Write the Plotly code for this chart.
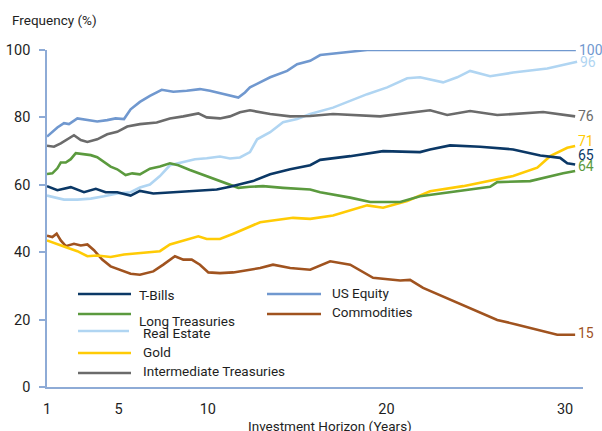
import plotly.graph_objects as go

# ---------------- data ----------------
tbills_x = [1.0, 1.58, 2.33, 3.07, 3.73, 4.28, 4.93, 5.68, 6.20, 6.95, 8.07, 9.19, 10.50, 11.24, 11.99,
            12.53, 13.49, 14.61, 15.73, 16.29, 17.97, 19.81, 21.88, 22.44, 23.56, 25.24, 27.09, 28.61,
            29.72, 30.12, 30.56]
tbills_y = [59.6, 58.4, 59.3, 57.8, 58.8, 57.8, 57.8, 56.8, 58.2, 57.4, 57.8, 58.1, 58.6, 59.4, 60.4,
            61.1, 63.1, 64.6, 65.8, 67.4, 68.5, 70.0, 69.7, 70.5, 71.7, 71.3, 70.5, 68.7,
            68.0, 66.4, 66.0]

equity_x = [1.0, 1.58, 1.95, 2.23, 2.70, 3.26, 3.81, 4.37, 4.84, 5.31, 5.68, 6.20, 6.76, 7.42, 8.07,
            8.82, 9.56, 10.12, 10.68, 11.24, 11.71, 12.08, 12.36, 13.49, 14.44, 15.0, 15.73, 16.29,
            17.4, 18.92, 30.6]
equity_y = [74.3, 77.0, 78.3, 78.0, 79.7, 79.2, 78.8, 79.2, 79.7, 79.5, 82.4, 84.6, 86.4, 88.2, 87.6,
            87.9, 88.4, 87.9, 87.2, 86.4, 85.9, 87.4, 88.9, 91.9, 93.8, 95.8, 96.8, 98.5,
            99.2, 100.0, 100.0]

longt_x = [1.0, 1.30, 1.58, 1.77, 2.05, 2.33, 2.61, 3.07, 3.45, 3.81, 4.19, 4.56, 4.93, 5.40, 5.77,
           6.20, 6.76, 7.32, 7.88, 8.35, 9.00, 9.56, 10.12, 10.68, 11.24, 11.71, 12.36, 13.09, 14.21,
           15.73, 16.29, 17.97, 19.09, 20.77, 21.88, 23.0, 24.29, 25.80, 26.20, 28.04, 29.89, 30.56]
longt_y = [63.2, 63.4, 64.9, 66.6, 66.6, 67.6, 69.4, 69.1, 68.8, 68.2, 66.9, 65.4, 64.6, 62.9, 63.4,
           63.1, 64.8, 65.4, 66.4, 65.8, 64.4, 63.3, 62.1, 61.1, 59.8, 59.1, 59.4, 59.6, 59.1,
           58.6, 57.8, 56.2, 54.9, 54.9, 56.6, 57.4, 58.4, 59.4, 60.8, 61.1, 63.4, 64.1]

commod_x = [1.0, 1.30, 1.54, 1.77, 2.05, 2.51, 2.89, 3.26, 3.63, 4.09, 4.56, 5.12, 5.68, 6.20, 6.95,
            7.51, 8.16, 8.63, 9.10, 9.56, 10.03, 10.68, 11.43, 12.36, 12.93, 13.65, 14.61, 15.73,
            16.85, 17.97, 19.25, 20.77, 21.32, 22.05, 23.56, 24.85, 26.20, 27.32, 28.61, 29.56, 30.56]
commod_y = [44.9, 44.5, 45.5, 43.5, 41.8, 42.5, 42.0, 42.3, 40.6, 37.8, 35.8, 34.6, 33.6, 33.3, 34.3,
            36.3, 38.8, 37.8, 37.8, 36.3, 34.0, 33.8, 34.0, 34.8, 35.3, 36.3, 35.3, 34.8,
            37.3, 36.3, 32.4, 31.6, 31.8, 29.4, 25.9, 23.1, 19.9, 18.5, 16.8, 15.5, 15.5]

realest_x = [1.0, 1.95, 2.70, 3.45, 4.19, 4.93, 5.68, 6.20, 6.76, 7.32, 7.88, 8.63, 9.28, 9.94, 10.68,
             11.24, 11.80, 12.36, 12.76, 13.49, 14.21, 15.0, 15.73, 17.01, 18.92, 20.04, 21.16, 21.88,
             22.44, 23.17, 23.96, 24.68, 25.80, 27.09, 29.0, 30.67]
realest_y = [56.8, 55.6, 55.6, 55.9, 56.6, 57.4, 57.8, 59.2, 60.1, 62.6, 65.8, 66.8, 67.6, 67.9, 68.4,
             67.8, 68.1, 69.7, 73.5, 75.6, 78.6, 79.5, 81.0, 82.9, 86.9, 88.9, 91.6, 91.9,
             91.2, 90.4, 91.9, 93.8, 92.2, 93.3, 94.5, 96.5]

gold_x = [1.0, 1.58, 2.14, 2.70, 3.26, 3.81, 4.56, 5.31, 6.20, 7.32, 7.88, 8.63, 9.47, 9.94, 10.68,
          11.43, 11.99, 12.36, 12.93, 14.05, 14.77, 15.73, 17.01, 18.92, 19.81, 21.16, 22.44, 24.29,
          25.80, 27.09, 28.44, 29.16, 30.12, 30.56]
gold_y = [43.5, 42.3, 41.3, 40.3, 38.8, 39.0, 38.6, 39.3, 39.7, 40.3, 42.3, 43.5, 44.7, 43.9, 43.9,
          45.5, 46.7, 47.7, 48.9, 49.7, 50.2, 49.9, 50.9, 53.9, 53.2, 55.2, 58.1, 59.6,
          61.1, 62.6, 65.1, 68.5, 71.0, 71.5]

interm_x = [1.0, 1.39, 1.77, 2.14, 2.51, 2.89, 3.26, 3.81, 4.37, 4.93, 5.49, 6.20, 7.14, 7.88, 8.63,
            9.47, 9.94, 10.68, 11.24, 11.80, 12.36, 13.49, 14.61, 15.73, 17.01, 19.65, 20.77, 22.44,
            23.40, 24.68, 26.20, 28.77, 30.56]
interm_y = [71.6, 71.3, 72.3, 73.5, 74.7, 73.3, 72.7, 73.5, 75.0, 75.7, 77.3, 78.0, 78.5, 79.7, 80.3,
            81.2, 80.0, 79.7, 80.3, 81.5, 82.1, 81.0, 80.3, 80.4, 81.0, 80.3, 81.0, 82.1,
            80.7, 81.9, 80.7, 81.6, 80.3]

series_names = ["T-Bills", "US Equity", "Long Treasuries", "Commodities", "Real Estate", "Gold",
                "Intermediate Treasuries"]
end_labels = ["65", "100", "64", "15", "96", "71", "76"]
x_ticks = [1, 5, 10, 20, 30]
y_ticks = [0, 20, 40, 60, 80, 100]

# ---------------- styling ----------------
colors = {
    "T-Bills": "#0b3866",
    "US Equity": "#7098cf",
    "Long Treasuries": "#5b9a3e",
    "Commodities": "#a0531f",
    "Real Estate": "#b0d5f2",
    "Gold": "#ffcb05",
    "Intermediate Treasuries": "#6b6b6b",
}
end_shift = {"65": 10, "100": 0, "64": 5, "15": 2, "96": 0, "71": 5, "76": 0}
FONT = "Roboto, Arial, sans-serif"
AX = "#8eabd6"
TXT = "#1e1e1e"

W, H = 602, 431
L, R, T, B = 47, 19, 50, 44
PW, PH = W - L - R, H - T - B


def px(xp):
    return (xp - L) / PW


def py(yp):
    return (H - B - yp) / PH


data = {
    "T-Bills": (tbills_x, tbills_y),
    "US Equity": (equity_x, equity_y),
    "Long Treasuries": (longt_x, longt_y),
    "Commodities": (commod_x, commod_y),
    "Real Estate": (realest_x, realest_y),
    "Gold": (gold_x, gold_y),
    "Intermediate Treasuries": (interm_x, interm_y),
}

fig = go.Figure()
draw_order = ["Real Estate", "Intermediate Treasuries", "US Equity", "Commodities", "Gold",
              "Long Treasuries", "T-Bills"]
for name in draw_order:
    xs, ys = data[name]
    fig.add_trace(go.Scatter(x=xs, y=ys, mode="lines", name=name,
                             line=dict(color=colors[name], width=2.6), showlegend=False,
                             cliponaxis=False))

annotations = []
# end-of-line value labels
for name, lab in zip(series_names, end_labels):
    xs, ys = data[name]
    annotations.append(dict(x=xs[-1], y=ys[-1], xref="x", yref="y", text=lab, showarrow=False,
                            xanchor="left", yanchor="middle", xshift=1, yshift=end_shift[lab],
                            font=dict(family=FONT, size=14, color=colors[name])))

# custom legend (layout positions in pixels)
legend_pos = {
    "T-Bills": (78, 131, 294, 137, 295),
    "US Equity": (267, 321, 294, 330, 293),
    "Long Treasuries": (78, 131, 314, 137, 321),
    "Commodities": (267, 321, 314, 330, 312),
    "Real Estate": (78, 129, 331, 141, 333),
    "Gold": (78, 131, 353, 141, 352),
    "Intermediate Treasuries": (78, 131, 373, 141, 371),
}
shapes = []
for name in series_names:
    x0, x1, yl, xt, yt = legend_pos[name]
    shapes.append(dict(type="line", xref="paper", yref="paper", x0=px(x0), x1=px(x1),
                       y0=py(yl), y1=py(yl), line=dict(color=colors[name], width=2.6)))
    annotations.append(dict(x=px(xt), y=py(yt), xref="paper", yref="paper", text=name,
                            showarrow=False, xanchor="left", yanchor="middle",
                            font=dict(family=FONT, size=13.5, color=TXT)))

annotations.append(dict(x=px(10), y=py(20), xref="paper", yref="paper", text="Frequency (%)",
                        showarrow=False, xanchor="left", yanchor="middle",
                        font=dict(family=FONT, size=13.5, color=TXT)))
annotations.append(dict(x=px(330), y=py(426), xref="paper", yref="paper",
                        text="Investment Horizon (Years)", showarrow=False, xanchor="center",
                        yanchor="middle", font=dict(family=FONT, size=13.5, color=TXT)))

fig.update_layout(
    width=W, height=H,
    margin=dict(l=L, r=R, t=T, b=B, pad=0, autoexpand=False),
    paper_bgcolor="white", plot_bgcolor="white",
    showlegend=False,
    annotations=annotations,
    shapes=shapes,
    xaxis=dict(range=[1, 31], tickvals=x_ticks, ticktext=[str(v) for v in x_ticks],
               showgrid=False, zeroline=False, showline=True, linecolor=AX, linewidth=1.6,
               ticks="", ticklabelstandoff=8, automargin=False,
               tickfont=dict(family=FONT, size=14.5, color=TXT)),
    yaxis=dict(range=[0, 100], tickvals=y_ticks, showgrid=False, zeroline=False,
               showline=True, linecolor=AX, linewidth=1.6, ticks="outside", ticklen=6,
               tickcolor=AX, tickwidth=1.6, ticklabelstandoff=6, automargin=False,
               tickfont=dict(family=FONT, size=14.5, color=TXT)),
)

fig.write_html("out.html", config={"displayModeBar": False},
               post_script="document.body.style.margin='0';document.body.style.overflow='hidden';")
